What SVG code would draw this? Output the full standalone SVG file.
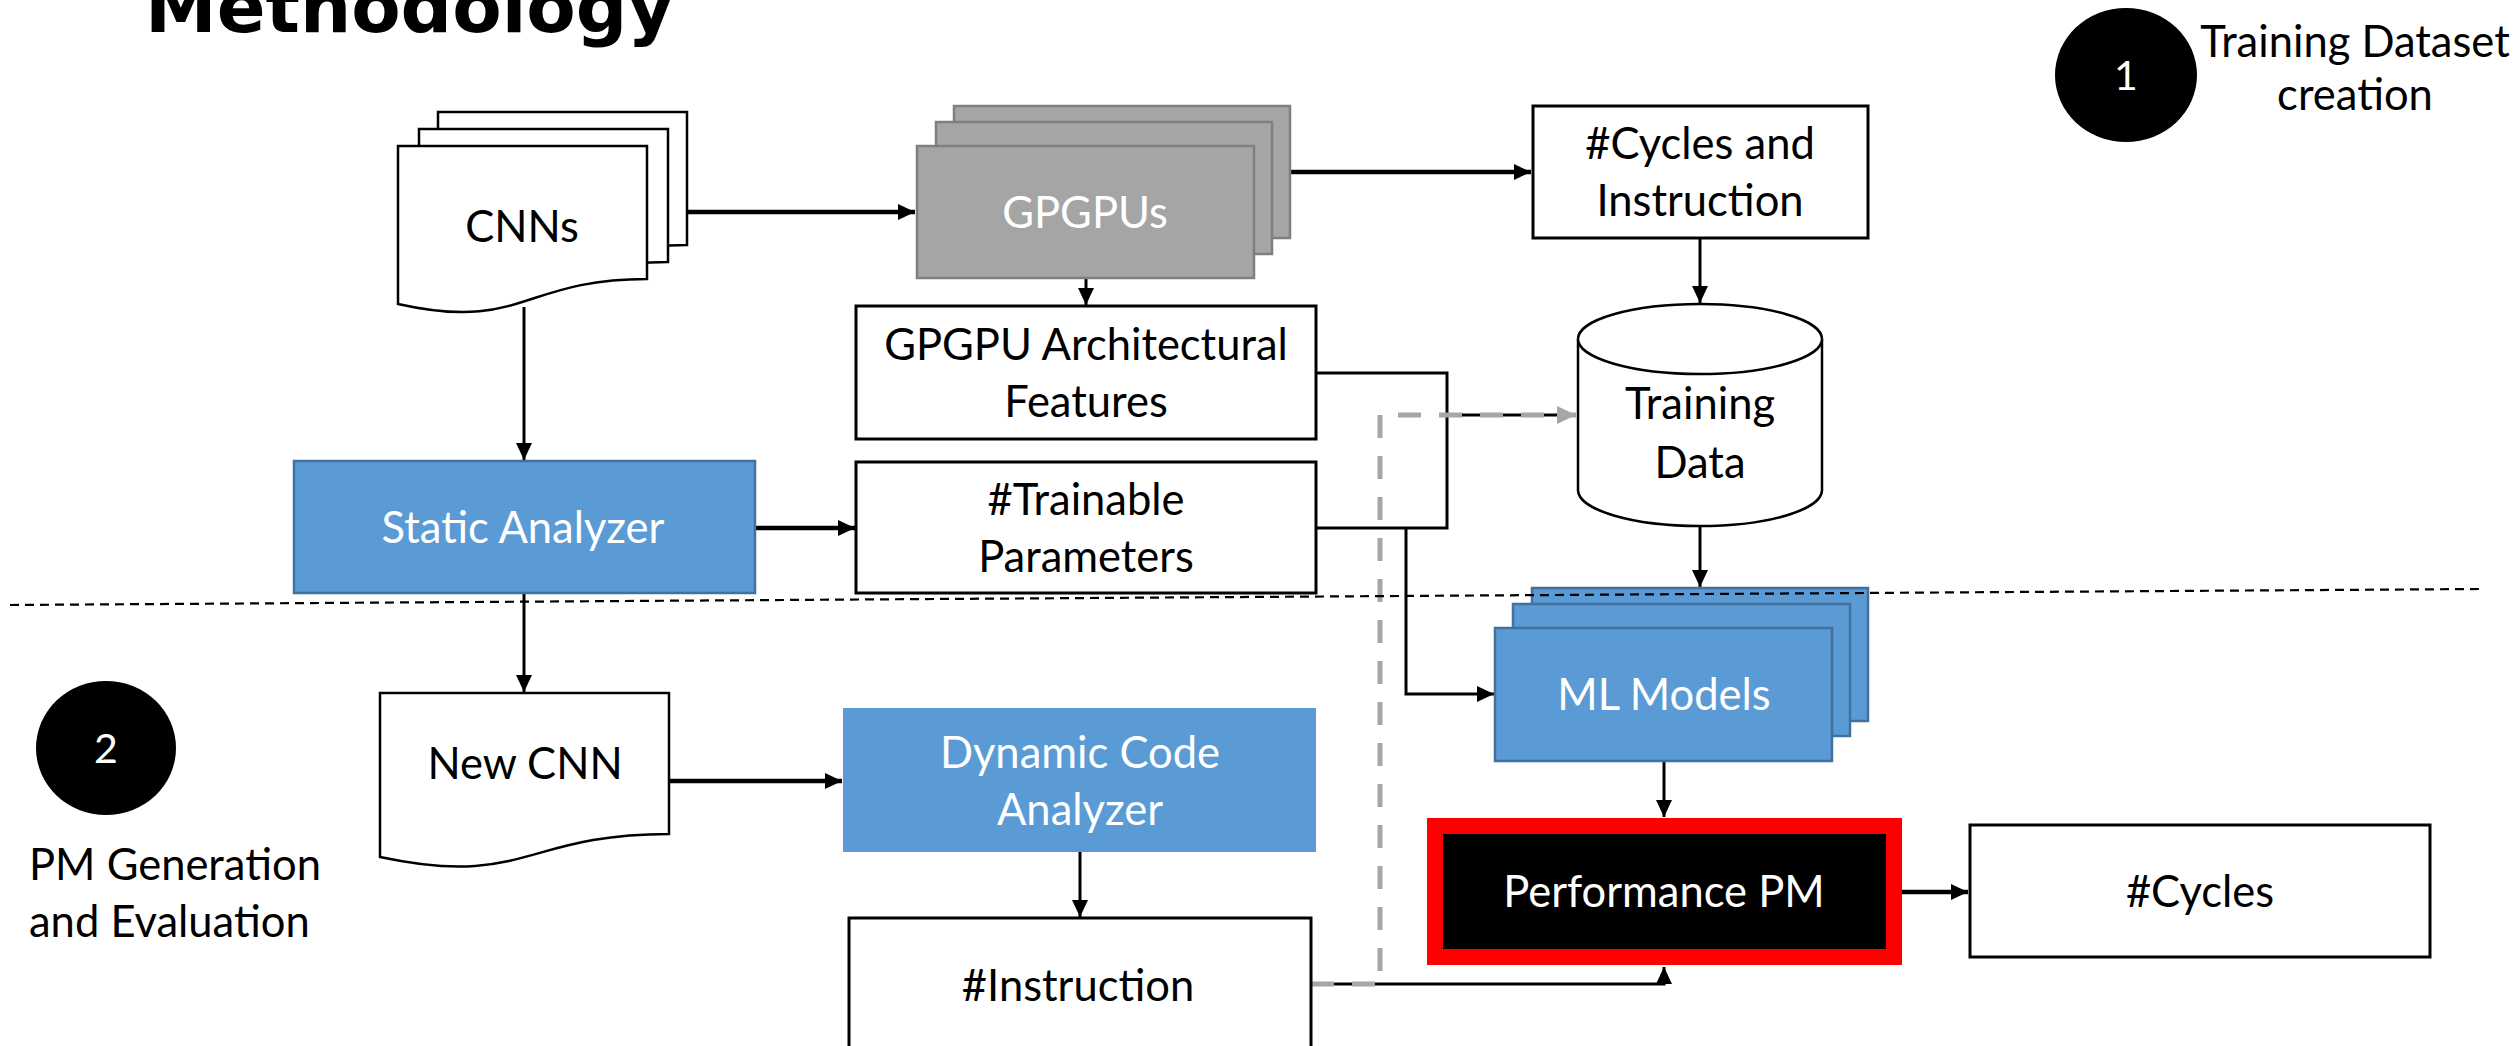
<svg xmlns="http://www.w3.org/2000/svg" width="2516" height="1046" viewBox="0 0 2516 1046">
  <style>
    .lbl { font-family: Lato, "Open Sans", "Liberation Sans", sans-serif; font-size: 43.5px; fill: #000; text-anchor: middle; }
    .lbl-w { fill: #fff; }
    .left { text-anchor: start; }
    .box { fill: #fff; stroke: #000; stroke-width: 3; }
    .doc { fill: #fff; stroke: #000; stroke-width: 2.5; }
    .gray { fill: #A5A5A5; stroke: #7F7F7F; stroke-width: 2.5; }
    .blue { fill: #5B9BD5; stroke: #41719C; stroke-width: 2.5; }
    .wire { fill: none; stroke: #000; stroke-width: 3; }
    .wire-thick { fill: none; stroke: #000; stroke-width: 4.5; }
    .dashed-gray { fill: none; stroke: #A6A6A6; stroke-width: 5; stroke-dasharray: 23 18; }
    .badge { fill: #000; }
    .badge-num { font-family: Lato, "Open Sans", "Liberation Sans", sans-serif; font-size: 41px; fill: #fff; text-anchor: middle; }
  </style>
  <defs>
    <marker id="arrow" markerUnits="userSpaceOnUse" markerWidth="18" markerHeight="16" refX="17" refY="8" orient="auto">
      <path d="M0,0 L17,8 L0,16 Z" fill="#000"/>
    </marker>
    <marker id="arrow-gray" markerUnits="userSpaceOnUse" markerWidth="20" markerHeight="18" refX="19" refY="9" orient="auto">
      <path d="M0,0 L19,9 L0,18 Z" fill="#A6A6A6"/>
    </marker>
    <!-- document shape with wavy bottom, 249 wide -->
    <path id="doc-sheet" d="M0,0 H249 V133 C124.5,133 124.5,186 0,158 Z"/>
  </defs>

  <rect width="2516" height="1046" fill="#fff"/>

  <!-- heading, clipped by the top edge -->
  <text x="145" y="32" font-family="'DejaVu Sans', Verdana, sans-serif" font-weight="bold" font-size="72" fill="#000">Methodology</text>

  <!-- stage markers -->
  <g id="stage-1">
    <ellipse class="badge" cx="2126" cy="75" rx="71" ry="67"/>
    <text class="badge-num" x="2126" y="90">1</text>
    <text class="lbl" x="2355" y="57">Training Dataset</text>
    <text class="lbl" x="2355" y="110">creation</text>
  </g>
  <g id="stage-2">
    <ellipse class="badge" cx="106" cy="748" rx="70" ry="67"/>
    <text class="badge-num" x="106" y="763">2</text>
    <text class="lbl left" x="29" y="880">PM Generation</text>
    <text class="lbl left" x="29" y="937">and Evaluation</text>
  </g>

  <!-- connectors -->
  <g id="connectors">
    <path class="wire-thick" d="M687,212 H915" marker-end="url(#arrow)"/>
    <path class="wire-thick" d="M1290,172 H1531" marker-end="url(#arrow)"/>
    <path class="wire" d="M1086,278 V305" marker-end="url(#arrow)"/>
    <path class="wire" d="M1700,238 V303" marker-end="url(#arrow)"/>
    <path class="wire" d="M1700,526 V587" marker-end="url(#arrow)"/>
    <path class="wire" d="M524,307 V460" marker-end="url(#arrow)"/>
    <path class="wire-thick" d="M755,528 H855" marker-end="url(#arrow)"/>
    <path class="wire" d="M524,593 V692" marker-end="url(#arrow)"/>
    <path class="wire-thick" d="M669,781 H842" marker-end="url(#arrow)"/>
    <path class="wire" d="M1080,847 V917" marker-end="url(#arrow)"/>
    <!-- architectural features + trainable parameters joined -->
    <path class="wire" stroke-width="3.5" d="M1316,373 H1447 V528 H1316"/>
    <path class="wire" d="M1406,528 V694 H1494" marker-end="url(#arrow)"/>
    <path class="wire" d="M1447,415 H1560"/>
    <path class="wire" d="M1664,761 V817" marker-end="url(#arrow)"/>
    <path class="wire-thick" d="M1896,892 H1968" marker-end="url(#arrow)"/>
    <path class="wire" d="M1311,984 H1664 V967" marker-end="url(#arrow)"/>
    <!-- instruction count routed to training data -->
    <path class="dashed-gray" d="M1311,984 H1380 V415 H1576" marker-end="url(#arrow-gray)"/>
  </g>

  <g id="cnns">
    <use href="#doc-sheet" class="doc" transform="translate(438,112)"/>
    <use href="#doc-sheet" class="doc" transform="translate(419,129)"/>
    <use href="#doc-sheet" class="doc" transform="translate(398,146)"/>
    <text class="lbl" x="522" y="242">CNNs</text>
  </g>

  <g id="gpgpus">
    <rect class="gray" x="954" y="106" width="336" height="132"/>
    <rect class="gray" x="936" y="122" width="336" height="132"/>
    <rect class="gray" x="917" y="146" width="337" height="132"/>
    <text class="lbl lbl-w" x="1085" y="228">GPGPUs</text>
  </g>

  <g id="cycles-instruction">
    <rect class="box" x="1533" y="106" width="335" height="132"/>
    <text class="lbl" x="1700" y="159">#Cycles and</text>
    <text class="lbl" x="1700" y="216">Instruction</text>
  </g>

  <g id="arch-features">
    <rect class="box" x="856" y="306" width="460" height="133"/>
    <text class="lbl" x="1086" y="360">GPGPU Architectural</text>
    <text class="lbl" x="1086" y="417">Features</text>
  </g>

  <g id="training-data">
    <path class="doc" d="M1578,339 V490 A122,36 0 0 0 1822,490 V339"/>
    <ellipse class="doc" cx="1700" cy="339" rx="122" ry="35"/>
    <text class="lbl" x="1700" y="419">Training</text>
    <text class="lbl" x="1700" y="478">Data</text>
  </g>

  <g id="static-analyzer">
    <rect class="blue" x="294" y="461" width="461" height="132"/>
    <text class="lbl lbl-w" x="523" y="543">Static Analyzer</text>
  </g>

  <g id="trainable-params">
    <rect class="box" x="856" y="462" width="460" height="131"/>
    <text class="lbl" x="1086" y="515">#Trainable</text>
    <text class="lbl" x="1086" y="572">Parameters</text>
  </g>

  <g id="ml-models">
    <rect class="blue" x="1532" y="588" width="336" height="133"/>
    <rect class="blue" x="1513" y="604" width="337" height="132"/>
    <rect class="blue" x="1495" y="628" width="337" height="133"/>
    <text class="lbl lbl-w" x="1664" y="710">ML Models</text>
  </g>

  <g id="new-cnn">
    <path class="doc" d="M380,693 H669 V834 C524.5,834 524.5,888 380,857 Z"/>
    <text class="lbl" x="525" y="779">New CNN</text>
  </g>

  <g id="dynamic-analyzer">
    <rect x="843" y="708" width="473" height="144" fill="#5B9BD5"/>
    <text class="lbl lbl-w" x="1080" y="768">Dynamic Code</text>
    <text class="lbl lbl-w" x="1080" y="825">Analyzer</text>
  </g>

  <g id="instruction">
    <rect class="box" x="849" y="918" width="462" height="150"/>
    <text class="lbl" x="1078" y="1001">#Instruction</text>
  </g>

  <g id="performance-pm">
    <rect x="1435" y="826" width="459" height="131" fill="#000" stroke="#FF0000" stroke-width="16"/>
    <text class="lbl lbl-w" x="1664" y="907">Performance PM</text>
  </g>

  <g id="cycles">
    <rect class="box" x="1970" y="825" width="460" height="132"/>
    <text class="lbl" x="2200" y="907">#Cycles</text>
  </g>

  <!-- divider between the two stages -->
  <line x1="10" y1="605" x2="2479" y2="589" stroke="#000" stroke-width="2.2" stroke-dasharray="9 6"/>
</svg>
